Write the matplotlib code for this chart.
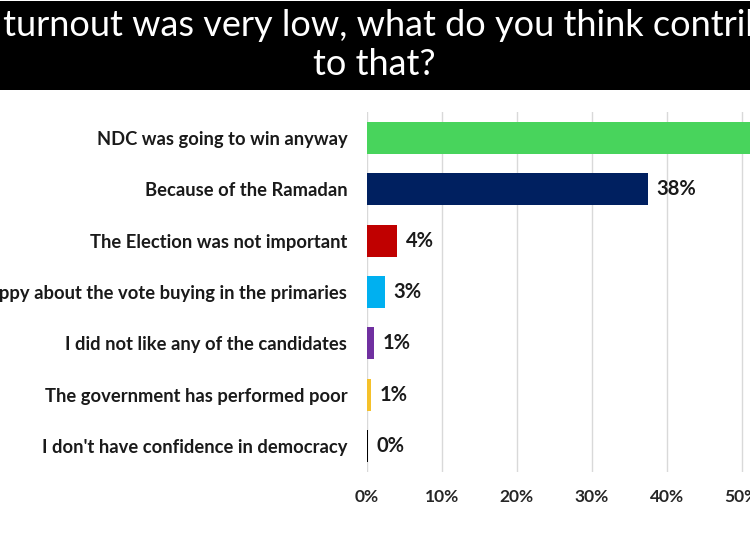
import matplotlib
matplotlib.use('Agg')
import matplotlib.pyplot as plt
from matplotlib.patches import Rectangle

categories = ['NDC was going to win anyway',
              'Because of the Ramadan',
              'The Election was not important',
              'Unhappy about the vote buying in the primaries',
              'I did not like any of the candidates',
              'The government has performed poor',
              "I don't have confidence in democracy"]
values = [54.2, 37.5, 4.1, 2.4, 1.0, 0.6, 0.2]
value_labels = ['54%', '38%', '4%', '3%', '1%', '1%', '0%']
colors = ['#48D45C', '#002060', '#C00000', '#00B0F0', '#7030A0', '#F5C12A', '#000000']
ticks = [0, 10, 20, 30, 40, 50, 60]
title = 'If the turnout was very low, what do you think contributed\nto that?'

plt.rcParams['font.family'] = ['Lato', 'DejaVu Sans']

fig = plt.figure(figsize=(7.5, 5.36), dpi=100)
fig.patch.set_facecolor('white')

# black title band
fig.patches.append(Rectangle((0, (536 - 90) / 536), 1, 89 / 536, transform=fig.transFigure,
                             facecolor='black', edgecolor='none', zorder=0))
fig.text(374 / 750, (536 - 45) / 536, title, ha='center', va='center', color='white',
         fontsize=26, family=['Lato', 'DejaVu Sans'], linespacing=1.2)

ax = fig.add_axes([366.7 / 750, 64 / 536, 0.6, 360 / 536])
y = list(range(len(categories)))
ax.barh(y, values, height=0.62, color=colors, zorder=3)
for i, (v, lab) in enumerate(zip(values, value_labels)):
    ax.annotate(lab, (v, i), xytext=(6, 0), textcoords='offset points',
                va='center', ha='left', fontsize=14.5, fontweight='bold', color='#1a1a1a')

ax.set_xlim(0, 60)
ax.set_ylim(6.5, -0.5)
ax.set_xticks(ticks)
ax.set_xticklabels([f'{t}%' for t in ticks], fontsize=12.5, fontweight='bold', color='#262626')
ax.set_yticks(y)
ax.set_yticklabels(categories, fontsize=13.2, fontweight='bold', color='#1a1a1a')
ax.tick_params(axis='both', length=0)
ax.tick_params(axis='x', pad=12)
ax.tick_params(axis='y', pad=14)
ax.grid(axis='x', color='#D9D9D9', linewidth=1, zorder=0)
for s in ax.spines.values():
    s.set_visible(False)

fig.savefig('out.png', dpi=100)
